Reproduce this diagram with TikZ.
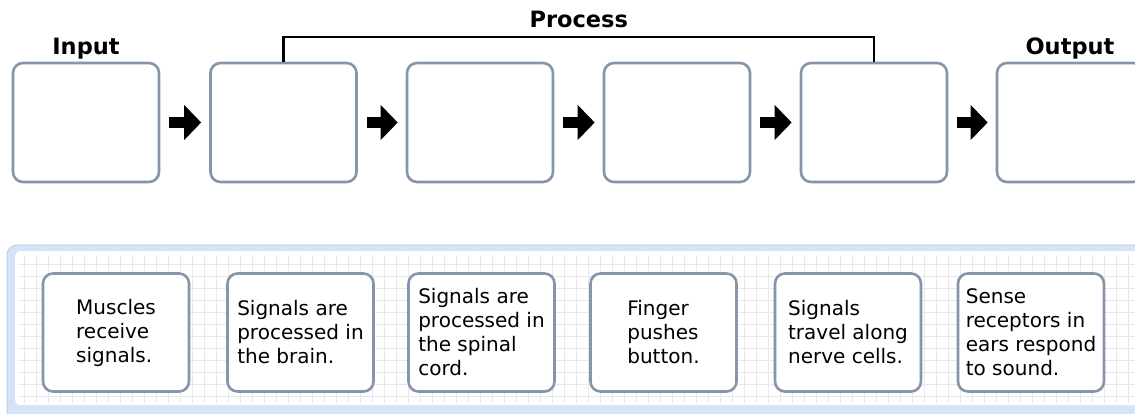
\documentclass[tikz,border=0pt]{standalone}
\usepackage{fontspec}
\setmainfont{DejaVu Sans}
\usetikzlibrary{positioning,arrows.meta}
\definecolor{boxgray}{RGB}{134,149,171}
\definecolor{panelblue}{RGB}{212,227,245}
\definecolor{paneledge}{RGB}{186,207,234}
\definecolor{gridgray}{RGB}{232,232,236}

\begin{document}
\begin{tikzpicture}[x=1pt, y=-1pt,
  slot/.style={draw=boxgray, line width=2.6pt, rounded corners=10pt, fill=white,
    minimum width=146pt, minimum height=119pt, inner sep=0pt},
  card/.style={slot, minimum height=118pt, align=left,
    font=\fontsize{20}{24}\selectfont},
  headlabel/.style={font=\fontsize{22.5}{26}\bfseries\selectfont, inner sep=0pt, anchor=south},
  blockarrow/.style={line width=11pt, -{Triangle[length=17pt, width=34pt]},
    shorten <=9pt, shorten >=8pt}]
\useasboundingbox (0,0) rectangle (1135,413);
\clip (0,0) rectangle (1135,413);

% panel with the cards
\draw [paneledge, fill=panelblue, line width=1pt, rounded corners=10pt] (7,245) rectangle (1170,430);
\fill [white, rounded corners=5pt] (15,251) rectangle (1160,405);
\draw [gridgray, line width=0.9pt, step=12pt] (18,255) grid (1160,403);

% empty boxes
\node [slot] (box1) at (86,122.5) {};
\node [slot] (box2) at (283.5,122.5) {};
\node [slot] (box3) at (480,122.5) {};
\node [slot] (box4) at (677,122.5) {};
\node [slot] (box5) at (874,122.5) {};
\node [slot] (box6) at (1070,122.5) {};

\draw [blockarrow] (box1) -- (box2);
\draw [blockarrow] (box2) -- (box3);
\draw [blockarrow] (box3) -- (box4);
\draw [blockarrow] (box4) -- (box5);
\draw [blockarrow] (box5) -- (box6);

\node [headlabel, above=2pt of box1] (inlabel) {Input};
\node [headlabel, above=2pt of box6] (outlabel) {Output};

% bracket over the process steps
\coordinate (bend) at (874,37);
\draw [line width=2.2pt] (box2.north) |- node [pos=0.75, headlabel, above=8pt] (proclabel) {Process} (bend) -- (box5.north);

% cards
\node [card] (muscles) at (116,332.5) {Muscles\\receive\\signals.};
\node [card] (brain) at (300.5,332.5) {Signals are\\processed in\\the brain.};
\node [card] (spine) at (481.5,332.5) {Signals are\\processed in\\the spinal\\cord.};
\node [card] (finger) at (663.5,332.5) {Finger\\pushes\\button.};
\node [card] (nerves) at (848,332.5) {Signals\\travel along\\nerve cells.};
\node [card] (ears) at (1031,332.5) {Sense\\receptors in\\ears respond\\to sound.};
\end{tikzpicture}
\end{document}
